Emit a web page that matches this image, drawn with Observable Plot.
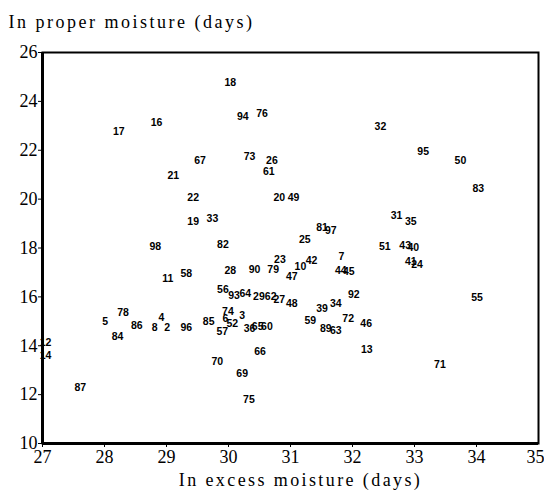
<!DOCTYPE html>
<html><head><meta charset="utf-8">
<script src="https://cdn.jsdelivr.net/npm/d3@7"></script>
<script src="https://cdn.jsdelivr.net/npm/@observablehq/plot@0.6"></script>
<style>body{margin:0;background:#fff}</style>
</head><body><div id="chart"></div>
<script>
const ids = ["18","17","16","94","76","67","73","26","61","21","22","19","33","82","98","32","95","50","83","20","49","31","35","81","97","25","51","43","40","41","24","7","44","45","42","10","47","23","79","92","55","27","48","39","34","72","46","59","89","63","13","71","11","58","28","90","56","93","64","29","62","74","6","3","85","52","57","36","65","60","66","70","69","75","87","5","78","84","86","4","8","2","96","12","14"];
const excess = [30.03,28.23,28.84,30.23,30.54,29.54,30.34,30.70,30.65,29.11,29.43,29.43,29.74,29.91,28.82,32.45,33.14,33.74,34.03,30.82,31.05,32.71,32.94,31.51,31.65,31.23,32.52,32.85,32.98,32.94,33.04,31.82,31.81,31.94,31.34,31.16,31.02,30.83,30.72,32.02,34.01,30.82,31.02,31.51,31.73,31.93,32.22,31.32,31.57,31.73,32.23,33.41,29.02,29.32,30.03,30.42,29.91,30.09,30.27,30.49,30.68,29.99,29.95,30.22,29.68,30.06,29.90,30.34,30.47,30.62,30.51,29.82,30.22,30.33,27.61,28.01,28.30,28.21,28.52,28.92,28.81,29.01,29.32,27.05,27.05];
const proper = [24.75,22.77,23.15,23.36,23.50,21.59,21.72,21.59,21.11,20.97,20.06,19.06,19.20,18.14,18.07,22.98,21.95,21.56,20.43,20.06,20.06,19.34,19.06,18.83,18.70,18.34,18.04,18.10,18.00,17.43,17.32,17.63,17.06,17.05,17.50,17.25,16.84,17.52,17.12,16.11,15.97,15.89,15.73,15.52,15.73,15.11,14.91,15.01,14.70,14.63,13.84,13.23,16.75,16.95,17.09,17.12,16.31,16.07,16.13,16.00,16.02,15.38,15.11,15.25,14.97,14.91,14.56,14.70,14.77,14.77,13.75,13.34,12.86,11.81,12.29,14.97,15.34,14.36,14.84,15.15,14.74,14.74,14.74,14.11,13.61];
const xTicks = [27,28,29,30,31,32,33,34];
const xLastTick = [35];
const yTicks = [10,12,14,16,18,20,22,24,26];
const xTitle = "In excess moisture (days)";
const yTitle = "In proper moisture (days)";

const data = ids.map((id, i) => ({id, x: excess[i], y: proper[i]}));

const plot = Plot.plot({
  width: 544, height: 492,
  marginLeft: 42, marginRight: 6, marginTop: 52, marginBottom: 49,
  style: {background: "#fff", fontFamily: "'Liberation Serif', serif", fontSize: "18px", color: "#000"},
  x: {domain: [27, 35]},
  y: {domain: [10, 26]},
  marks: [
    Plot.axisX({ticks: xTicks, tickSize: 4, tickPadding: 3, tickFormat: d => String(d), label: null, fontSize: 18}),
    Plot.axisX({ticks: xLastTick, tickSize: 4, tickPadding: 3, tickFormat: d => String(d), label: null, fontSize: 18, textAnchor: "end", dx: 6}),
    Plot.axisY({ticks: yTicks, tickSize: 4, tickPadding: 1, tickFormat: d => String(d), label: null, fontSize: 18}),
    Plot.text(data, {x: "x", y: "y", text: "id", fontFamily: "'Liberation Sans', Arial, sans-serif", fontWeight: "bold", fontSize: 10.5, fill: "#000"}),
    Plot.frame({stroke: "#000", strokeWidth: 2}),
    Plot.ruleX([27], {stroke: "#000", strokeWidth: 3}),
    Plot.ruleY([10], {stroke: "#000", strokeWidth: 3}),
    Plot.text([yTitle], {frameAnchor: "top-left", dx: -34, dy: -37, textAnchor: "start", fontSize: 18}),
    Plot.text([xTitle], {frameAnchor: "bottom", dx: 10, dy: 42, fontSize: 18})
  ]
});
d3.select(plot).selectAll("text").each(function() {
  const t = this.textContent;
  if (t === yTitle) this.setAttribute("letter-spacing", "2.5px");
  if (t === xTitle) this.setAttribute("letter-spacing", "2.4px");
});
document.getElementById("chart").append(plot);
</script>
</body></html>
